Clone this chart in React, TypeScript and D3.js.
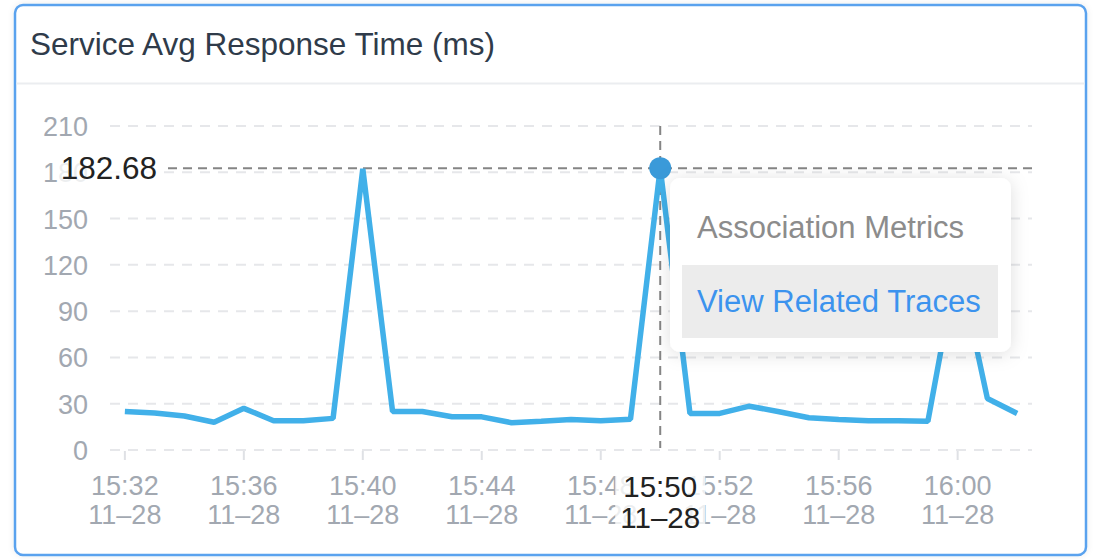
import React from "react";
import * as d3 from "d3";

const times = [
  "15:32", "15:33", "15:34", "15:35", "15:36", "15:37", "15:38", "15:39", "15:40", "15:41",
  "15:42", "15:43", "15:44", "15:45", "15:46", "15:47", "15:48", "15:49", "15:50", "15:51",
  "15:52", "15:53", "15:54", "15:55", "15:56", "15:57", "15:58", "15:59", "16:00", "16:01",
  "16:02",
];
const values = [
  25, 24, 22, 18, 27, 19, 19, 20.5, 182.2, 25,
  25, 21.5, 21.5, 17.7, 18.7, 19.8, 19, 20, 182.68, 23.7,
  23.7, 28.4, 24.8, 20.9, 19.8, 19, 19, 18.6, 123, 33.4,
  23.7,
];
const yTicks = [0, 30, 60, 90, 120, 150, 180, 210];
const dateLabel = "11–28";
const labelEvery = 4;
const hoverIndex = 18;
const title = "Service Avg Response Time (ms)";
const menuItems = ["Association Metrics", "View Related Traces"];

const FONT = "'Liberation Sans', Arial, Helvetica, sans-serif";

export default function App() {
  const W = 1109;
  const H = 560;
  const x = d3.scaleBand<string>().domain(times).range([110, 1032]);
  const cx = (t: string) => (x(t) as number) + x.bandwidth() / 2;
  const y = d3.scaleLinear().domain([0, 210]).range([450, 126]);
  const line = d3
    .line<number>()
    .x((_, i) => cx(times[i]))
    .y((d) => y(d));

  const hx = cx(times[hoverIndex]);
  const hy = y(values[hoverIndex]);
  const labelIdx = times.map((_, i) => i).filter((i) => i % labelEvery === 0);

  return (
    <svg
      width={W}
      height={H}
      style={{ position: "absolute", left: 0, top: 0, background: "#fff" }}
      fontFamily={FONT}
    >
      <defs>
        <filter id="cardShadow" x="-5%" y="-5%" width="110%" height="110%">
          <feDropShadow dx="0" dy="0" stdDeviation="3" floodColor="#000" floodOpacity="0.08" />
        </filter>
        <filter id="tipShadow" x="-20%" y="-20%" width="140%" height="140%">
          <feDropShadow dx="0" dy="2" stdDeviation="9" floodColor="#000" floodOpacity="0.13" />
        </filter>
      </defs>

      {/* card */}
      <rect x={15} y={5} width={1071} height={550} rx={8} fill="#fff" stroke="#5aa2ee" strokeWidth={2.5} filter="url(#cardShadow)" />
      <line x1={16.5} x2={1084.5} y1={83.5} y2={83.5} stroke="#ebedf0" strokeWidth={2} />
      <text x={30} y={55} fontSize={31.5} fill="#2f3b4a">{title}</text>

      {/* grid */}
      {yTicks.map((t) => (
        <line key={t} x1={110} x2={1032} y1={y(t)} y2={y(t)} stroke="#e6e7ea" strokeWidth={2} strokeDasharray="10 8" />
      ))}
      {yTicks.map((t) => (
        <text key={"l" + t} x={88} y={y(t) + 10} fontSize={27} textAnchor="end" fill="#a2a8b1">{t}</text>
      ))}

      {/* x ticks & labels */}
      {labelIdx.map((i) => (
        <g key={times[i]}>
          <line x1={cx(times[i])} x2={cx(times[i])} y1={451} y2={460} stroke="#dfe1e5" strokeWidth={2} />
          <text x={cx(times[i])} y={495} fontSize={27} textAnchor="middle" fill="#a2a8b1">{times[i]}</text>
          <text x={cx(times[i])} y={524} fontSize={27} textAnchor="middle" fill="#a2a8b1">{dateLabel}</text>
        </g>
      ))}

      {/* crosshair */}
      <line x1={hx} x2={hx} y1={126} y2={448} stroke="#858585" strokeWidth={2} strokeDasharray="9 6" />
      <line x1={168} x2={1032} y1={hy} y2={hy} stroke="#858585" strokeWidth={2} strokeDasharray="9 6" />

      {/* series */}
      <path d={line(values) || ""} fill="none" stroke="#41b0e9" strokeWidth={5.5} strokeLinejoin="bevel" />
      <circle cx={hx} cy={hy} r={11} fill="#3a9ad9" />

      {/* y pointer label */}
      <rect x={58} y={hy - 18} width={106} height={36} fill="#fff" fillOpacity={0.8} />
      <text x={157} y={hy + 11} fontSize={31.5} textAnchor="end" fill="#222">{values[hoverIndex].toFixed(2)}</text>

      {/* x pointer label */}
      <rect x={hx - 45} y={468} width={90} height={66} fill="#fff" fillOpacity={0.8} />
      <text x={hx} y={497} fontSize={29.5} textAnchor="middle" fill="#222">{times[hoverIndex]}</text>
      <text x={hx} y={528} fontSize={29.5} textAnchor="middle" fill="#222">{dateLabel}</text>

      {/* tooltip menu */}
      <rect x={670} y={178} width={341} height={174} rx={10} fill="#fff" filter="url(#tipShadow)" />
      <rect x={682} y={265} width={316} height={73} fill="#ececec" />
      <text x={697} y={238} fontSize={31} fill="#8c8c8c">{menuItems[0]}</text>
      <text x={697} y={312} fontSize={31} fill="#3c93ee">{menuItems[1]}</text>
    </svg>
  );
}
